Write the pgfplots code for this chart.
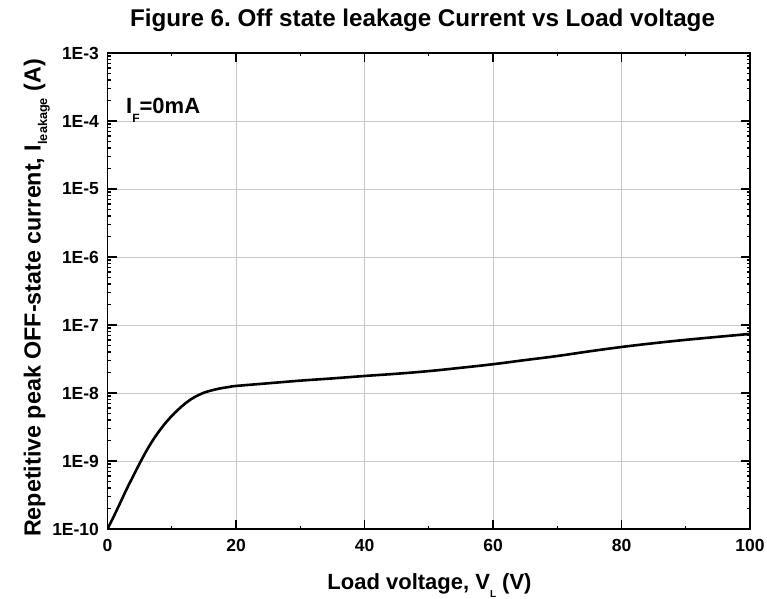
\documentclass[border=0pt]{standalone}
\usepackage{fontspec}
\setmainfont{Liberation Sans}
\usepackage{pgfplots}
\pgfplotsset{compat=1.18}
\definecolor{gridgray}{RGB}{200,200,200}
\frenchspacing
\begin{document}
\begin{tikzpicture}
\useasboundingbox (0,0) rectangle (767pt,598pt);
\begin{axis}[
  at={(107.5pt,69pt)}, anchor=south west,
  scale only axis, width=642.5pt, height=476pt,
  ymode=log,
  xmin=0, xmax=100, ymin=1e-10, ymax=1e-3,
  xtick={0,20,40,60,80,100},
  minor xtick={10,30,50,70,90},
  ytick={1e-10,1e-9,1e-8,1e-7,1e-6,1e-5,1e-4,1e-3},
  yticklabels={1E-10,1E-9,1E-8,1E-7,1E-6,1E-5,1E-4,1E-3},
  /pgf/number format/assume math mode=true,
  ticklabel style={font=\fontsize{17.5}{20}\selectfont\bfseries},
  xticklabel style={yshift=-7pt},
  yticklabel style={xshift=-5pt},
  grid=major,
  major grid style={gridgray, line width=1pt},
  axis line style={line width=1.8pt},
  major tick length=9pt,
  minor tick length=3.5pt,
  every tick/.style={black, line width=1.3pt},
  tick align=inside,
  clip=true,
]
\addplot[black, line width=2.6pt, smooth, tension=0.6] coordinates {
(0,1.0e-10) (1,1.55e-10) (2,2.45e-10) (3,3.9e-10) (4,6.0e-10) (5,9.2e-10)
(6,1.38e-9) (7,1.98e-9) (8,2.72e-9) (9,3.6e-9) (10,4.6e-9) (11,5.7e-9)
(12,6.9e-9) (13,8.1e-9) (14,9.15e-9) (15,1.01e-8) (16,1.08e-8) (17,1.14e-8)
(18,1.19e-8) (19,1.23e-8) (20,1.27e-8) (25,1.39e-8) (30,1.52e-8) (35,1.64e-8)
(40,1.78e-8) (45,1.92e-8) (50,2.1e-8) (55,2.35e-8) (60,2.65e-8) (65,3.05e-8)
(70,3.5e-8) (75,4.1e-8) (80,4.75e-8) (85,5.4e-8) (90,6.05e-8) (95,6.7e-8)
(100,7.4e-8)
};
\end{axis}
% title
\node[anchor=base, font=\fontsize{24.2}{29}\selectfont\bfseries] at (422.5pt,571.3pt)
  {Figure 6. Off state leakage Current vs Load voltage};
% x label
\node[anchor=base, font=\fontsize{22}{26}\selectfont\bfseries] at (429.5pt,9pt)
  {Load voltage, V\raisebox{-8pt}{\fontsize{10}{10}\selectfont L} (V)};
% y label
\node[anchor=base, rotate=90, font=\fontsize{23.3}{27}\selectfont\bfseries] at (40.7pt,300pt)
  {Repetitive peak OFF-state current, I\raisebox{-6.5pt}{\fontsize{12.7}{13}\selectfont leakage} (A)};
% annotation
\node[anchor=base west, inner sep=0pt, font=\fontsize{22}{26}\selectfont\bfseries] at (126pt,484pt)
  {I\raisebox{-8.5pt}{\fontsize{12}{12}\selectfont F}=0mA};
\end{tikzpicture}
\end{document}
